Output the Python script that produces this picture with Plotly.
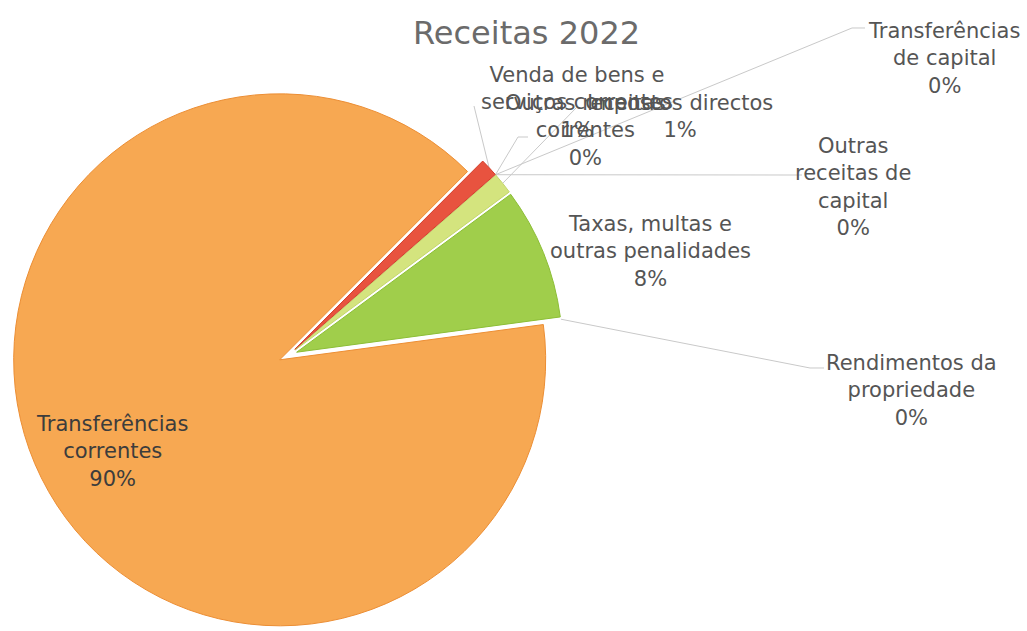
import math
import plotly.graph_objects as go

# ---- data ----
categories = [
    "Impostos directos",
    "Taxas, multas e outras penalidades",
    "Rendimentos da propriedade",
    "Transferências correntes",
    "Venda de bens e serviços correntes",
    "Outras receitas correntes",
    "Transferências de capital",
    "Outras receitas de capital",
]
values = [1.3, 8.0, 0.0, 89.6, 1.1, 0.0, 0.0, 0.0]
label_lines = [
    "Impostos directos",
    "Taxas, multas e<br>outras penalidades",
    "Rendimentos da<br>propriedade",
    "Transferências<br>correntes",
    "Venda de bens e<br>serviços correntes",
    "Outras receitas<br>correntes",
    "Transferências<br>de capital",
    "Outras<br>receitas de<br>capital",
]
chart_title = "Receitas 2022"

# ---- styles / layout ----
W, H = 1027, 631
fill_colors = ["#D4E47E", "#A0CE4B", "#A0CE4B", "#F7A852", "#E8533F", "#E8533F", "#E8533F", "#E8533F"]
line_colors = ["#C3D66A", "#8CBE36", "#8CBE36", "#EC8E34", "#D33F2B", "#D33F2B", "#D33F2B", "#D33F2B"]
FONT = "DejaVu Sans"
LABEL_SIZE = 21
LABEL_COLOR = "#555555"
LEADER_COLOR = "#c9c9c9"
pull = 0.035
rotation = 48.9
dom_x = [0.0, 0.5609]
dom_y = [0.0, 0.8726]

# label block centres (px) and leader waypoints (px), by category index
label_pos = {
    0: (680, 116),
    1: (650, 252),
    2: (911, 390),
    3: (112, 451),
    4: (577, 102),
    5: (585, 130),
    6: (944, 58),
    7: (853, 187),
}
leader_way = {
    0: [(576, 108)],
    2: [(810, 368), (824, 368)],
    4: [(474, 106)],
    5: [(518, 137), (528, 137)],
    6: [(852, 28), (865, 28)],
    7: [(790, 175), (802, 175)],
}

# ---- pie geometry (same rules plotly uses) ----
box_h = H * (dom_y[1] - dom_y[0])
box_w = W * (dom_x[1] - dom_x[0])
r = min(box_h, box_w) / (2 + 2 * pull)
cx = W * (dom_x[0] + dom_x[1]) / 2
cy = H * (1 - (dom_y[0] + dom_y[1]) / 2)
total = sum(values)

angles = []
a = rotation
for v in values:
    a1 = a + v / total * 360.0
    angles.append((a, a1))
    a = a1

fig = go.Figure()
fig.add_trace(go.Pie(
    labels=categories,
    values=values,
    sort=False,
    direction="clockwise",
    rotation=rotation,
    pull=[pull] * len(values),
    marker=dict(colors=fill_colors,
                line=dict(color=line_colors,
                          width=[0 if v == 0 else 1 for v in values])),
    textinfo="none",
    hoverinfo="label+percent",
    domain=dict(x=dom_x, y=dom_y),
    showlegend=False,
))

annotations = []
shapes = []
for i, cat in enumerate(categories):
    pct = round(values[i] / total * 100)
    txt = f"{label_lines[i]}<br>{pct}%"
    lx, ly = label_pos[i]
    inner = (i == 3)
    annotations.append(dict(
        x=lx / W, y=1 - ly / H, xref="paper", yref="paper",
        text=txt, showarrow=False, xanchor="center", yanchor="middle",
        align="center",
        font=dict(family=FONT, size=LABEL_SIZE,
                  color="#3c3c3c" if inner else LABEL_COLOR),
    ))
    if i in leader_way:
        a0, a1 = angles[i]
        mid = math.radians((a0 + a1) / 2)
        px = cx + (1 + pull) * r * math.sin(mid)
        py = cy - (1 + pull) * r * math.cos(mid)
        pts = [(px, py)] + leader_way[i]
        path = "M " + " L ".join(f"{x / W:.5f} {1 - y / H:.5f}" for x, y in pts)
        shapes.append(dict(type="path", path=path, xref="paper", yref="paper",
                           line=dict(color=LEADER_COLOR, width=1), layer="below"))

annotations.append(dict(
    x=526 / W, y=1 - 33 / H, xref="paper", yref="paper",
    text=chart_title, showarrow=False, xanchor="center", yanchor="middle",
    font=dict(family=FONT, size=32, color="#6b6b6b"),
))

fig.update_layout(
    width=W, height=H,
    margin=dict(l=0, r=0, t=0, b=0),
    paper_bgcolor="white", plot_bgcolor="white",
    annotations=annotations,
    shapes=shapes,
    font=dict(family=FONT),
)

fig.write_html("out.html",
               config={"displayModeBar": False},
               post_script="document.body.style.margin='0px';document.body.style.overflow='hidden';")
